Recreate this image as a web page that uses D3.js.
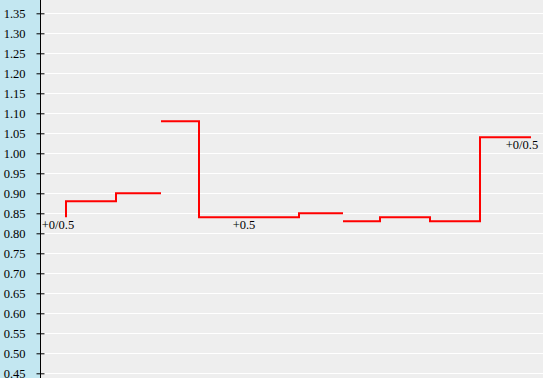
<!DOCTYPE html>
<html>
<head>
<meta charset="utf-8">
<script src="https://cdn.jsdelivr.net/npm/d3@7"></script>
<style>
  body { margin: 0; padding: 0; background: #eeeeee; }
  svg { display: block; }
</style>
</head>
<body>
<svg id="chart" width="543" height="378"></svg>
<script>
// y ticks (odds)
var yTicks = [1.35, 1.30, 1.25, 1.20, 1.15, 1.10, 1.05, 1.00, 0.95, 0.90, 0.85,
              0.80, 0.75, 0.70, 0.65, 0.60, 0.55, 0.50, 0.45]

// each handicap line is its own step segment: [time, odds]
var seg1 = [[22, 0.84], [22, 0.88], [72, 0.90], [117, 0.90]]
var seg2 = [[117, 1.08], [155, 0.84], [255, 0.85], [299, 0.85]]
var seg3 = [[299, 0.83], [336, 0.84], [386, 0.83], [436, 1.04], [487, 1.04]]
var segments = [seg1, seg2, seg3]

// handicap labels: [time, odds, text]
var handicapLabels = [[14, 0.84, "+0/0.5"], [200, 0.84, "+0.5"], [478, 1.04, "+0/0.5"]]

var svg = d3.select("#chart")
var width = 543, height = 378
var axisX = 40
var font = "'Liberation Serif', 'Times New Roman', serif"

var x = d3.scaleLinear().domain([0, 499]).range([44, 543])
var y = d3.scaleLinear().domain([0.45, 1.35]).range([373.3, 13.3])

// left panel
svg.append("rect")
    .attr("x", 0).attr("y", 0)
    .attr("width", axisX).attr("height", height)
    .attr("fill", "#c3e7f1")

// plot background
svg.append("rect")
    .attr("x", axisX).attr("y", 0)
    .attr("width", width - axisX).attr("height", height)
    .attr("fill", "#eeeeee")

// grid lines
svg.append("g")
    .selectAll("line")
    .data(yTicks)
    .enter().append("line")
    .attr("x1", axisX + 4).attr("x2", width)
    .attr("y1", function(d) { return Math.round(y(d)) + 0.5 })
    .attr("y2", function(d) { return Math.round(y(d)) + 0.5 })
    .attr("stroke", "#ffffff")
    .attr("stroke-width", 1)

// y axis
var axis = d3.axisLeft(y)
    .tickValues(yTicks)
    .tickFormat(d3.format(".2f"))
    .tickSizeInner(4)
    .tickSizeOuter(0)

var gAxis = svg.append("g")
    .attr("transform", "translate(" + (axisX + 0.5) + ",0)")
    .call(axis)
    .attr("font-family", font)
    .attr("font-size", 12.5)
gAxis.select(".domain").remove()
gAxis.selectAll(".tick line")
    .attr("x1", -4).attr("x2", 4)
    .attr("stroke", "#000")
gAxis.selectAll(".tick text")
    .attr("x", -15)
    .attr("fill", "#000")

svg.append("line")
    .attr("x1", axisX + 0.5).attr("x2", axisX + 0.5)
    .attr("y1", 0).attr("y2", height)
    .attr("stroke", "#000").attr("stroke-width", 1)

// step lines
var line = d3.line()
    .x(function(d) { return x(d[0]) })
    .y(function(d) { return y(d[1]) })
    .curve(d3.curveStepAfter)

svg.append("g")
    .selectAll("path")
    .data(segments)
    .enter().append("path")
    .attr("d", line)
    .attr("fill", "none")
    .attr("stroke", "#ff0000")
    .attr("stroke-width", 2)

// handicap labels
svg.append("g")
    .attr("font-family", font)
    .attr("font-size", 12.5)
    .selectAll("text")
    .data(handicapLabels)
    .enter().append("text")
    .attr("x", function(d) { return x(d[0]) })
    .attr("y", function(d) { return y(d[1]) + 12 })
    .attr("text-anchor", "middle")
    .text(function(d) { return d[2] })
</script>
</body>
</html>
